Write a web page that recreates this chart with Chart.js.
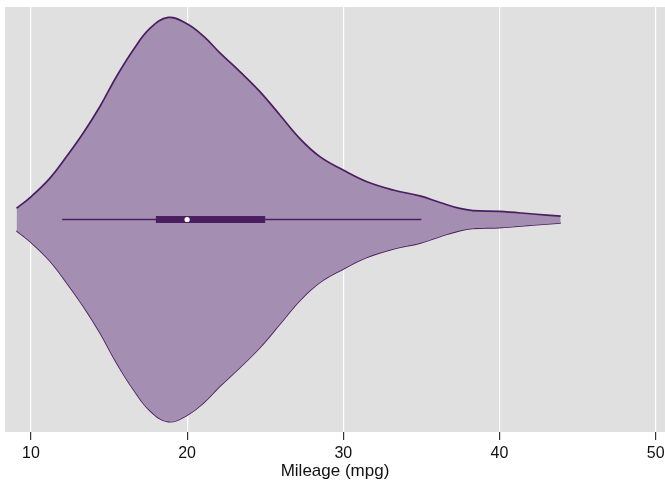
<!DOCTYPE html>
<html>
<head>
<meta charset="utf-8">
<title>Mileage violin</title>
<script src="https://cdn.jsdelivr.net/npm/chart.js@4/dist/chart.umd.min.js"></script>
<style>
  html, body { margin: 0; padding: 0; background: #fff; }
  #wrap { width: 665px; height: 483px; }
</style>
</head>
<body>
<div id="wrap"><canvas id="violin"></canvas></div>
<script>
// Kernel density outline of mileage, as half-widths of the violin
const mpgGrid = [9.08, 10, 11.22, 12.28, 13.35, 14.42, 15.48, 16.55, 17.62, 18.79,
  19.96, 21.03, 22.1, 23.38, 24.66, 25.94, 27.22, 28.5, 29.99, 31.48,
  33.19, 34.9, 36.2, 37.46, 38.3, 40, 42.15, 43.92];
const density = [0.053, 0.107, 0.195, 0.296, 0.407, 0.532, 0.673, 0.798, 0.899, 0.951,
  0.922, 0.864, 0.784, 0.696, 0.602, 0.492, 0.381, 0.296, 0.233, 0.179,
  0.139, 0.111, 0.08, 0.052, 0.042, 0.038, 0.026, 0.016];

// Box plot summary: adjacent values, quartiles, median
const whiskers = [12, 35];
const quartiles = [18, 25];
const median = 20;

const xTicks = [10, 20, 30, 40, 50];

const violinFill = '#a48fb2';
const violinLine = '#4b1e60';

const upper = mpgGrid.map((x, i) => ({ x, y: density[i] }));
const lower = mpgGrid.map((x, i) => ({ x, y: -density[i] }));

// paint the plot region gray before the grid goes on
const plotBg = {
  id: 'plotBg',
  beforeDraw(chart) {
    const { ctx, chartArea: a } = chart;
    ctx.save();
    ctx.fillStyle = '#e0e0e0';
    ctx.fillRect(a.left, a.top, a.right - a.left, a.bottom - a.top);
    ctx.restore();
  }
};

new Chart(document.getElementById('violin'), {
  type: 'line',
  data: {
    datasets: [
      {
        label: 'median',
        data: [{ x: median, y: 0 }],
        showLine: false,
        pointRadius: 2.6,
        pointBackgroundColor: '#ffffff',
        pointBorderWidth: 0,
        order: 0
      },
      {
        label: 'iqr',
        data: quartiles.map(x => ({ x, y: 0 })),
        borderColor: violinLine,
        borderWidth: 7,
        borderCapStyle: 'butt',
        pointRadius: 0,
        order: 1
      },
      {
        label: 'whiskers',
        data: whiskers.map(x => ({ x, y: 0 })),
        borderColor: violinLine,
        borderWidth: 1.6,
        pointRadius: 0,
        order: 2
      },
      {
        label: 'upper',
        data: upper,
        borderColor: violinLine,
        borderWidth: 1.7,
        backgroundColor: violinFill,
        fill: '+1',
        tension: 0.4,
        pointRadius: 0,
        order: 3
      },
      {
        label: 'lower',
        data: lower,
        borderColor: violinLine,
        borderWidth: 1.7,
        tension: 0.4,
        pointRadius: 0,
        order: 4
      }
    ]
  },
  options: {
    responsive: true,
    maintainAspectRatio: false,
    animation: false,
    // no automatic room for point/line overflow, the plot runs to the right edge
    layout: { autoPadding: false, padding: { left: 5, top: 7, right: 0, bottom: 0 } },
    plugins: {
      legend: { display: false },
      tooltip: { enabled: false }
    },
    scales: {
      x: {
        type: 'linear',
        min: 8.34,
        max: 50.6,
        afterBuildTicks(axis) {
          axis.ticks = xTicks.map(v => ({ value: v }));
        },
        grid: {
          color: '#ffffff',
          lineWidth: 1.2,
          tickColor: '#333333',
          tickLength: 8
        },
        border: { display: false },
        ticks: {
          color: '#111111',
          // taller line box instead of tick padding moves the numbers down
          padding: 0,
          maxRotation: 0,
          font: { family: 'Arial, "Liberation Sans", sans-serif', size: 16, lineHeight: '27px' }
        },
        title: {
          display: true,
          text: 'Mileage (mpg)',
          color: '#111111',
          padding: { top: 0, bottom: 7 },
          font: { family: 'Arial, "Liberation Sans", sans-serif', size: 17, lineHeight: '9px' }
        }
      },
      y: {
        display: false,
        min: -1,
        max: 1
      }
    }
  },
  plugins: [plotBg]
});
</script>
</body>
</html>
